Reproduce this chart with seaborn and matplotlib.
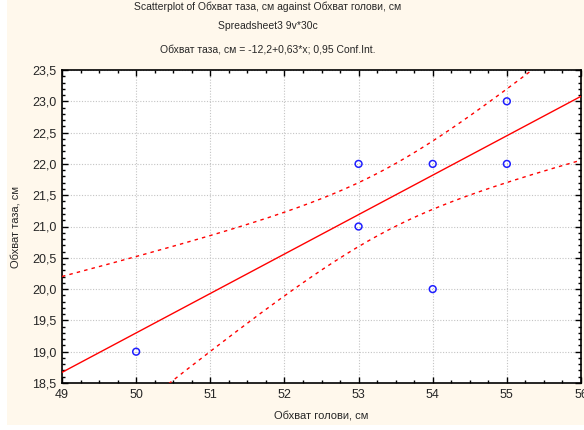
import numpy as np
import pandas as pd
import matplotlib
matplotlib.use("Agg")
import matplotlib.pyplot as plt
from matplotlib.ticker import MultipleLocator, FuncFormatter
from matplotlib.patches import Rectangle
import seaborn as sns
from scipy import stats

# ---- data (visible points; counts = overlapping cases inferred from fit & CI) ----
head_cm = [50, 53, 53, 54, 54, 55, 55]      # Обхват голови, см
pelvis_cm = [19, 22, 21, 22, 20, 23, 22]    # Обхват таза, см
counts = [2, 4, 1, 3, 2, 2, 1]

title1 = "Scatterplot of Обхват таза, см against Обхват голови, см"
title2 = "Spreadsheet3 9v*30c"
title3 = "Обхват таза, см = -12,2+0,63*x; 0,95 Conf.Int."
xlabel = "Обхват голови, см"
ylabel = "Обхват таза, см"

df = pd.DataFrame({"x": np.repeat(head_cm, counts).astype(float),
                   "y": np.repeat(pelvis_cm, counts).astype(float)})

# ---- linear fit and 0.95 confidence band of the mean ----
n = len(df)
mx, my = df.x.mean(), df.y.mean()
sxx = ((df.x - mx) ** 2).sum()
b = ((df.x - mx) * (df.y - my)).sum() / sxx
a = my - b * mx
s = np.sqrt(((df.y - a - b * df.x) ** 2).sum() / (n - 2))
t = stats.t.ppf(0.975, n - 2)
xg = np.linspace(49, 56, 300)
fit = a + b * xg
half = t * s * np.sqrt(1 / n + (xg - mx) ** 2 / sxx)
lines = pd.DataFrame({"x": xg, "fit": fit, "lo": fit - half, "hi": fit + half})

# unique points for markers (overlapping cases drawn once)
pts = pd.DataFrame({"x": head_cm, "y": pelvis_cm})

# ---- figure ----
sns.set_style("white")
plt.rcParams["font.family"] = ["Liberation Sans", "DejaVu Sans"]
W, H = 584, 430
fig = plt.figure(figsize=(W / 100, H / 100), dpi=100, facecolor="white")
fig.patches.append(Rectangle((7 / W, 5 / H), 1, 1, transform=fig.transFigure,
                             facecolor="#FFF8EC", edgecolor="none", zorder=-10))
ax = fig.add_axes([62 / W, (H - 383) / H, (581 - 62) / W, (383 - 70) / H])
ax.set_facecolor("white")

red = "#FF0000"
sns.lineplot(data=lines, x="x", y="fit", ax=ax, color=red, lw=1.0, zorder=3)
sns.lineplot(data=lines, x="x", y="hi", ax=ax, color=red, lw=1.0,
             linestyle=(0, (2.5, 3)), zorder=3)
sns.lineplot(data=lines, x="x", y="lo", ax=ax, color=red, lw=1.0,
             linestyle=(0, (2.5, 3)), zorder=3)
sns.scatterplot(data=pts, x="x", y="y", ax=ax, marker="o", s=24,
                facecolor="none", edgecolor="#1F1FFF", linewidth=1.1, zorder=4)

ax.set_xlim(49, 56)
ax.set_ylim(18.5, 23.5)
ax.xaxis.set_major_locator(MultipleLocator(1))
ax.xaxis.set_minor_locator(MultipleLocator(0.25))
ax.yaxis.set_major_locator(MultipleLocator(0.5))
ax.yaxis.set_minor_locator(MultipleLocator(0.1))
ax.yaxis.set_major_formatter(FuncFormatter(lambda v, p: f"{v:.1f}".replace(".", ",")))
ax.xaxis.set_major_formatter(FuncFormatter(lambda v, p: f"{v:.0f}"))
ax.tick_params(which="both", direction="in", top=True, right=True,
               bottom=True, left=True, color="black", width=1)
ax.tick_params(which="major", length=4, labelsize=9, pad=4)
ax.tick_params(which="minor", length=2.5)
ax.grid(True, which="major", color="#C4C4C4", linestyle=(0, (1, 1.5)), lw=0.8)
for sp in ax.spines.values():
    sp.set_color("black")
    sp.set_linewidth(1.2)

ax.set_xlabel(xlabel, fontsize=8, labelpad=7)
ax.set_ylabel(ylabel, fontsize=8, labelpad=8)

cx = 268 / W
fig.text(cx, 1 - 7 / H, title1, ha="center", va="center", fontsize=7.5)
fig.text(cx, 1 - 26 / H, title2, ha="center", va="center", fontsize=7.5)
fig.text(cx, 1 - 50 / H, title3, ha="center", va="center", fontsize=7.5)

fig.savefig("out.png", dpi=100, facecolor=fig.get_facecolor())
